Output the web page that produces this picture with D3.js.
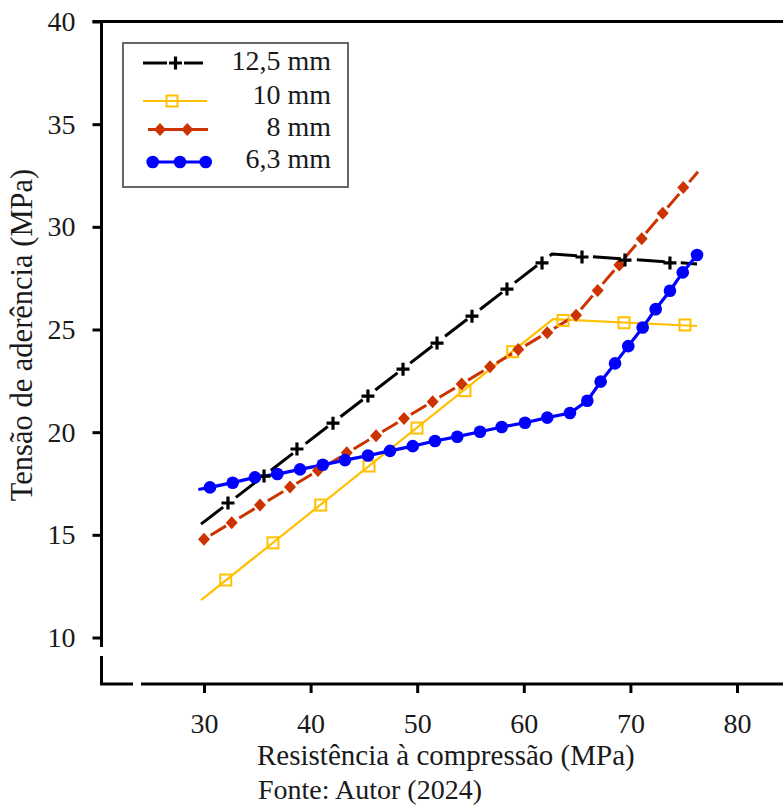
<!DOCTYPE html>
<html>
<head>
<meta charset="utf-8">
<script src="https://cdn.jsdelivr.net/npm/d3@7/dist/d3.min.js"></script>
<style>
  html, body { margin: 0; padding: 0; background: #fff; }
  svg { display: block; }
  text { font-family: "Liberation Serif", "Times New Roman", serif; fill: #1a1a1a; }
</style>
</head>
<body>
<script>
// ---------- data ----------
const xTicks = [30, 40, 50, 60, 70, 80];
const yTicks = [10, 15, 20, 25, 30, 35, 40];
const seriesNames = ["12,5 mm", "10 mm", "8 mm", "6,3 mm"];

// 12,5 mm
const s125LineX = [29.72, 62.65, 76.25];
const s125LineY = [15.52, 28.68, 28.19];
const s125MarkX = [32.25, 35.63, 38.72, 42.10, 45.38, 48.67, 51.86, 55.14, 58.42, 61.71, 65.46, 69.49, 73.71];
const s125MarkY = [16.55, 17.86, 19.18, 20.44, 21.76, 23.07, 24.34, 25.65, 26.97, 28.24, 28.53, 28.38, 28.24];

// 10 mm
const s10LineX = [29.72, 62.74, 76.25];
const s10LineY = [11.82, 25.51, 25.17];
const s10MarkX = [32.04, 36.47, 40.95, 45.48, 49.98, 54.48, 58.96, 63.68, 69.40, 75.12];
const s10MarkY = [12.80, 14.61, 16.45, 18.35, 20.20, 22.02, 23.92, 25.44, 25.33, 25.22];

// 8 mm
const s8LineX = [30.00, 64.90, 76.34];
const s8LineY = [14.79, 25.70, 32.68];
const s8MarkX = [30.00, 32.60, 35.25, 38.07, 40.69, 43.39, 46.14, 48.76, 51.45, 54.17, 56.83, 59.48, 62.20, 64.90, 66.93, 68.96, 71.06, 73.03, 74.96];
const s8MarkY = [14.79, 15.59, 16.45, 17.33, 18.13, 19.00, 19.83, 20.67, 21.48, 22.34, 23.19, 24.03, 24.84, 25.70, 26.90, 28.14, 29.42, 30.66, 31.92];

// 6,3 mm
const s63LineX = [29.47, 30.56, 32.69, 34.78, 36.88, 39.01, 41.14, 43.23, 45.38, 47.45, 49.58, 51.67, 53.76, 55.89, 57.93, 60.11, 62.20, 64.33, 65.96, 67.21, 68.56, 69.80, 71.15, 72.37, 73.71, 74.91, 76.25];
const s63LineY = [17.21, 17.31, 17.54, 17.80, 17.96, 18.19, 18.41, 18.64, 18.86, 19.09, 19.32, 19.57, 19.78, 20.02, 20.25, 20.46, 20.71, 20.93, 21.53, 22.46, 23.35, 24.19, 25.10, 25.99, 26.89, 27.78, 28.63];
const s63MarkX = s63LineX.slice(1);
const s63MarkY = s63LineY.slice(1);

// ---------- layout ----------
const W = 783, H = 805;
const FS = 28;
const svg = d3.select("body").append("svg").attr("width", W).attr("height", H);

const x = d3.scaleLinear().domain([30, 80]).range([204, 737]);
const y = d3.scaleLinear().domain([10, 40]).range([637.5, 21.5]);

const axisX = 101.5, axisY = 684;
const AX = "#000", AW = 3;

// y axis ticks & labels
const gy = svg.append("g").attr("transform", `translate(${axisX},0)`)
  .call(d3.axisLeft(y).tickValues(yTicks).tickSize(9).tickPadding(17).tickFormat(d3.format("d")));
gy.select(".domain").remove();
gy.selectAll(".tick line").attr("stroke", AX).attr("stroke-width", AW);
gy.selectAll(".tick text").attr("font-size", FS).attr("font-family", "Liberation Serif").attr("fill", "#1a1a1a");

// x axis ticks & labels
const gx = svg.append("g").attr("transform", `translate(0,${axisY})`)
  .call(d3.axisBottom(x).tickValues(xTicks).tickSize(9).tickPadding(20).tickFormat(d3.format("d")));
gx.select(".domain").remove();
gx.selectAll(".tick line").attr("stroke", AX).attr("stroke-width", AW);
gx.selectAll(".tick text").attr("font-size", FS).attr("font-family", "Liberation Serif").attr("fill", "#1a1a1a");

// axis lines with breaks
const ax = svg.append("g").attr("stroke", AX).attr("stroke-width", AW).attr("fill", "none");
ax.append("line").attr("x1", 92.5).attr("x2", W).attr("y1", y(40)).attr("y2", y(40));
ax.append("line").attr("x1", axisX).attr("x2", axisX).attr("y1", y(40)).attr("y2", 647);
ax.append("path").attr("d", `M${axisX},656V${axisY}H133`);
ax.append("line").attr("x1", 141).attr("x2", W).attr("y1", axisY).attr("y2", axisY);

// ---------- series ----------
const line = d3.line().x(d => x(d[0])).y(d => y(d[1]));
const zip = (a, b) => a.map((v, i) => [v, b[i]]);

const C125 = "#000000", C10 = "#FFC000", C8 = "#CC3300", C63 = "#0000FF";

const plot = svg.append("g");

// 10 mm
plot.append("path").datum(zip(s10LineX, s10LineY)).attr("d", line)
  .attr("fill", "none").attr("stroke", C10).attr("stroke-width", 2.2);
// 8 mm
plot.append("path").datum(zip(s8LineX, s8LineY)).attr("d", line)
  .attr("fill", "none").attr("stroke", C8).attr("stroke-width", 3)
  .attr("stroke-dasharray", "18,15.4").attr("stroke-dashoffset", 25.7);
// 12,5 mm
plot.append("path").datum(zip(s125LineX, s125LineY)).attr("d", line)
  .attr("fill", "none").attr("stroke", C125).attr("stroke-width", 3)
  .attr("stroke-dasharray", "28,16");
// 6,3 mm
plot.append("path").datum(zip(s63LineX, s63LineY)).attr("d", line)
  .attr("fill", "none").attr("stroke", C63).attr("stroke-width", 3.2);

// markers
const plusPath = "M-6.5,0H6.5M0,-6.5V6.5";
function squares(g, pts) {
  g.selectAll(null).data(pts).join("rect")
    .attr("x", d => x(d[0]) - 5.5).attr("y", d => y(d[1]) - 5.5)
    .attr("width", 11).attr("height", 11)
    .attr("fill", "none").attr("stroke", C10).attr("stroke-width", 2);
}
function diamonds(g, pts) {
  g.selectAll(null).data(pts).join("path")
    .attr("d", "M0,-6.5L6,0L0,6.5L-6,0Z")
    .attr("transform", d => `translate(${x(d[0])},${y(d[1])})`)
    .attr("fill", C8);
}
function pluses(g, pts) {
  g.selectAll(null).data(pts).join("path")
    .attr("d", plusPath)
    .attr("transform", d => `translate(${x(d[0])},${y(d[1])})`)
    .attr("stroke", C125).attr("stroke-width", 3.2).attr("fill", "none");
}
function circles(g, pts) {
  g.selectAll(null).data(pts).join("circle")
    .attr("cx", d => x(d[0])).attr("cy", d => y(d[1])).attr("r", 6.3)
    .attr("fill", C63);
}
squares(plot.append("g"), zip(s10MarkX, s10MarkY));
diamonds(plot.append("g"), zip(s8MarkX, s8MarkY));
pluses(plot.append("g"), zip(s125MarkX, s125MarkY));
circles(plot.append("g"), zip(s63MarkX, s63MarkY));

// ---------- legend ----------
const lg = svg.append("g");
lg.append("rect").attr("x", 123).attr("y", 43).attr("width", 225).attr("height", 144)
  .attr("fill", "#fff").attr("stroke", "#666").attr("stroke-width", 2);

// 12,5 mm
lg.append("line").attr("x1", 143).attr("x2", 167).attr("y1", 63).attr("y2", 63).attr("stroke", C125).attr("stroke-width", 3);
lg.append("line").attr("x1", 184).attr("x2", 203).attr("y1", 63).attr("y2", 63).attr("stroke", C125).attr("stroke-width", 3);
lg.append("path").attr("d", plusPath).attr("transform", "translate(175.5,63)").attr("stroke", C125).attr("stroke-width", 3.2).attr("fill", "none");
// 10 mm
lg.append("line").attr("x1", 143).attr("x2", 207).attr("y1", 101).attr("y2", 101).attr("stroke", C10).attr("stroke-width", 2.2);
lg.append("rect").attr("x", 172 - 5.5).attr("y", 101 - 5.5).attr("width", 11).attr("height", 11).attr("fill", "none").attr("stroke", C10).attr("stroke-width", 2);
// 8 mm
lg.append("line").attr("x1", 148).attr("x2", 208).attr("y1", 129.5).attr("y2", 129.5).attr("stroke", C8).attr("stroke-width", 3);
[160, 187.3].forEach(cx => lg.append("path").attr("d", "M0,-6.5L6,0L0,6.5L-6,0Z").attr("transform", `translate(${cx},129.5)`).attr("fill", C8));
// 6,3 mm
lg.append("line").attr("x1", 148).attr("x2", 208).attr("y1", 162).attr("y2", 162).attr("stroke", C63).attr("stroke-width", 3.2);
[152.7, 180, 205.7].forEach(cx => lg.append("circle").attr("cx", cx).attr("cy", 162).attr("r", 6.3).attr("fill", C63));

const legendBase = [70, 104, 136, 168];
seriesNames.forEach((n, i) => {
  lg.append("text").attr("x", 331).attr("y", legendBase[i]).attr("text-anchor", "end")
    .attr("font-size", FS).text(n);
});

// ---------- titles ----------
svg.append("text").attr("x", 257).attr("y", 765).attr("font-size", 29)
  .text("Resistência à compressão (MPa)");
svg.append("text").attr("transform", "translate(32,335) rotate(-90)").attr("text-anchor", "middle")
  .attr("font-size", 30.5).text("Tensão de aderência (MPa)");
svg.append("text").attr("x", 258).attr("y", 799).attr("font-size", FS)
  .text("Fonte: Autor (2024)");
</script>
</body>
</html>
